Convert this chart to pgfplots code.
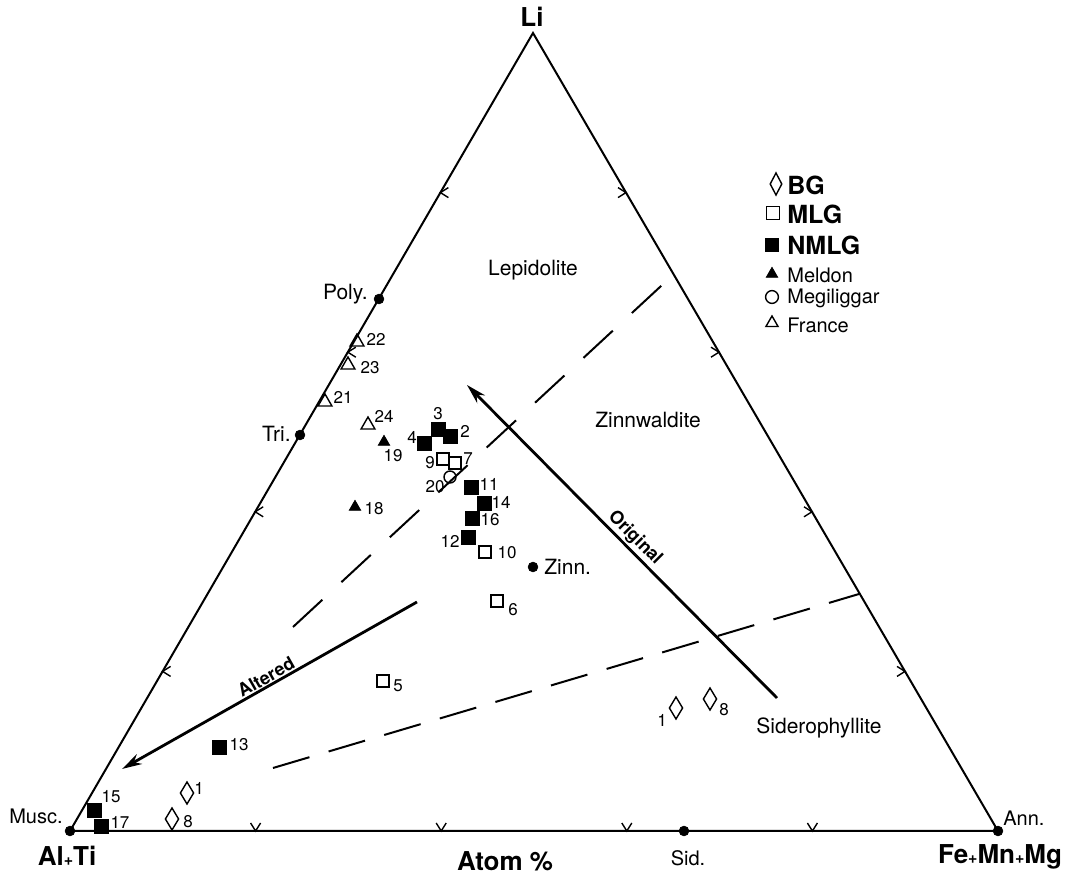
\documentclass[border=0pt]{standalone}
\usepackage{fontspec}
\setmainfont{TeX Gyre Heros}
\usepackage{pgfplots}
\pgfplotsset{compat=1.18}
\usetikzlibrary{arrows.meta}
\newcommand{\chev}[6]{\draw[line width=0.7pt] (axis cs:#1,#2) -- (axis cs:#3,#4) -- (axis cs:#5,#6);}
\newcommand{\num}[3]{\node[font=\fontsize{8.5}{9}\selectfont, inner sep=0pt] at (axis cs:#1,#2) {#3};}
\begin{document}
\begin{tikzpicture}
\begin{axis}[scale only axis, width=534pt, height=441pt,
  xmin=0, xmax=1068, ymin=0, ymax=882, y dir=reverse,
  hide axis, clip=false]
% full picture area
\path (axis cs:0,0) rectangle (axis cs:1068,882);
% triangle
\addplot[black, line width=1pt, line join=miter] coordinates {(70,831) (998,831) (533,33) (70,831)};
% ticks
\chev{170.6}{666.4}{162.6}{671.4}{170.6}{676.4}
\chev{263.2}{506.8}{255.2}{511.8}{263.2}{516.8}
\chev{355.8}{347.2}{347.8}{352.2}{355.8}{357.2}
\chev{448.4}{187.6}{440.4}{192.6}{448.4}{197.6}
\chev{618}{187.6}{626}{192.6}{618}{197.6}
\chev{711}{347.2}{719}{352.2}{711}{357.2}
\chev{804}{506.8}{812}{511.8}{804}{516.8}
\chev{897}{666.4}{905}{671.4}{897}{676.4}
\chev{250.6}{823}{255.6}{831}{260.6}{823}
\chev{436.2}{823}{441.2}{831}{446.2}{823}
\chev{621.8}{823}{626.8}{831}{631.8}{823}
\chev{807.4}{823}{812.4}{831}{817.4}{823}
% dashed boundaries
\addplot[black, line width=1pt, dash pattern=on 20pt off 13pt] coordinates {(293,627) (674,274)};
\addplot[black, line width=1pt, dash pattern=on 19pt off 10pt] coordinates {(273,768) (859,594)};
% arrows
\addplot[black, line width=1.4pt, -{Stealth[length=10pt,width=5.5pt]}] coordinates {(417,602) (122,769)};
\addplot[black, line width=1.4pt, -{Stealth[length=10pt,width=5.5pt]}] coordinates {(777,698) (467,385)};
% end-member dots
\addplot[black, only marks, mark=*, mark size=2.4pt] coordinates {(70,831) (998,831) (684,831) (300,435) (379,299) (533,567)};
% NMLG
\addplot[black, only marks, mark=square*, mark size=3.5pt] coordinates {
(438,429) (450,436) (424,443) (471,487) (484,503) (472,518) (468,537) (219,747) (94,810) (101,826)};
% MLG
\addplot[black, only marks, mark=square, mark size=3pt, mark options={fill=white, line width=0.7pt}] coordinates {
(443,459) (455,463) (485,552) (497,601) (383,681)};
% BG
\addplot[black, only marks, mark=diamond, mark size=5.5pt, mark options={xscale=0.8, line width=0.7pt}] coordinates {
(187,793) (172,819) (676,708) (710,699)};
% Meldon
\addplot[black, only marks, mark=triangle*, mark size=3.3pt] coordinates {(384,442) (355,507)};
% Megiliggar
\addplot[black, only marks, mark=o, mark size=3pt, mark options={line width=0.7pt}] coordinates {(450,477)};
% France
\addplot[black, only marks, mark=triangle, mark size=4pt, mark options={line width=0.7pt}] coordinates {(357,342) (348,365) (325,402) (368,425)};
% legend markers
\addplot[black, only marks, mark=diamond, mark size=5.5pt, mark options={xscale=0.7, line width=0.7pt}] coordinates {(776,184)};
\addplot[black, only marks, mark=square, mark size=3.3pt, mark options={line width=0.7pt}] coordinates {(773,213)};
\addplot[black, only marks, mark=square*, mark size=3.3pt] coordinates {(772,245)};
\addplot[black, only marks, mark=triangle*, mark size=3.3pt] coordinates {(772,274)};
\addplot[black, only marks, mark=o, mark size=3.2pt, mark options={line width=0.7pt}] coordinates {(772,297)};
\addplot[black, only marks, mark=triangle, mark size=3.5pt, mark options={line width=0.7pt}] coordinates {(772,323)};
% legend text
\node[anchor=west, font=\fontsize{12.5}{14}\selectfont\bfseries, inner sep=0pt] at (axis cs:787,185) {BG};
\node[anchor=west, font=\fontsize{12.5}{14}\selectfont\bfseries, inner sep=0pt] at (axis cs:787,214) {MLG};
\node[anchor=west, font=\fontsize{12.5}{14}\selectfont\bfseries, inner sep=0pt] at (axis cs:787,245) {NMLG};
\node[anchor=west, font=\fontsize{10}{11}\selectfont, inner sep=0pt] at (axis cs:787,275) {Meldon};
\node[anchor=west, font=\fontsize{10}{11}\selectfont, inner sep=0pt] at (axis cs:787,298) {Megiliggar};
\node[anchor=west, font=\fontsize{10}{11}\selectfont, inner sep=0pt] at (axis cs:787,325) {France};
% point numbers
\num{438}{414}{3}
\num{465}{431}{2}
\num{412}{437}{4}
\num{489}{484}{11}
\num{501}{502}{14}
\num{490}{520}{16}
\num{450}{541}{12}
\num{239}{745}{13}
\num{111}{797}{15}
\num{120}{822}{17}
\num{430}{463}{9}
\num{468}{459}{7}
\num{507}{553}{10}
\num{513}{610}{6}
\num{398}{686}{5}
\num{199}{788}{1}
\num{188}{822}{8}
\num{662}{720}{1}
\num{724}{710}{8}
\num{393}{456}{19}
\num{374}{509}{18}
\num{435}{487}{20}
\num{376}{339}{22}
\num{370}{368}{23}
\num{343}{397}{21}
\num{384}{416}{24}
% end-member labels
\node[anchor=east, font=\fontsize{10.5}{12}\selectfont, inner sep=0pt] at (axis cs:368,294) {Poly.};
\node[anchor=east, font=\fontsize{10.5}{12}\selectfont, inner sep=0pt] at (axis cs:291,434) {Tri.};
\node[anchor=west, font=\fontsize{10.5}{12}\selectfont, inner sep=0pt] at (axis cs:544,567) {Zinn.};
\node[anchor=east, font=\fontsize{10}{11}\selectfont, inner sep=0pt] at (axis cs:63,816) {Musc.};
\node[anchor=west, font=\fontsize{10}{11}\selectfont, inner sep=0pt] at (axis cs:1003,818) {Ann.};
\node[font=\fontsize{10}{11}\selectfont, inner sep=0pt] at (axis cs:688,858) {Sid.};
% region labels
\node[font=\fontsize{10.5}{12}\selectfont, inner sep=0pt] at (axis cs:533,270) {Lepidolite};
\node[font=\fontsize{10.5}{12}\selectfont, inner sep=0pt] at (axis cs:648,420) {Zinnwaldite};
\node[font=\fontsize{10.5}{12}\selectfont, inner sep=0pt] at (axis cs:819,728) {Siderophyllite};
% arrow labels
\node[font=\fontsize{9}{10}\selectfont\bfseries, inner sep=0pt, rotate=29.5] at (axis cs:266,677) {Altered};
\node[font=\fontsize{9}{10}\selectfont\bfseries, inner sep=0pt, rotate=-45] at (axis cs:635,538) {Original};
% vertex labels
\node[font=\fontsize{13}{15}\selectfont\bfseries, inner sep=0pt] at (axis cs:532,17) {Li};
\node[font=\fontsize{13}{15}\selectfont\bfseries, inner sep=0pt] at (axis cs:67,856) {Al{\fontsize{8}{9}\selectfont+}Ti};
\node[font=\fontsize{13}{15}\selectfont\bfseries, inner sep=0pt] at (axis cs:1000,857) {Fe{\fontsize{8}{9}\selectfont+}Mn{\fontsize{8}{9}\selectfont+}Mg};
\node[font=\fontsize{13}{15}\selectfont\bfseries, inner sep=0pt] at (axis cs:505,861) {Atom \%};
\end{axis}
\end{tikzpicture}
\end{document}
